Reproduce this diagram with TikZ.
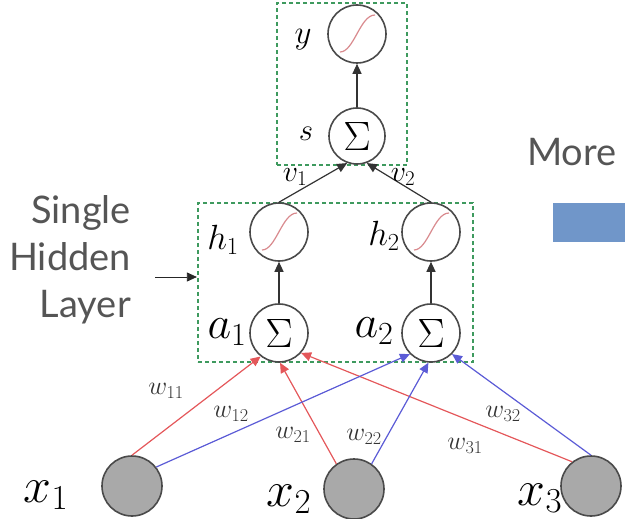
\RequirePackage{fix-cm}
\documentclass[tikz,border=0pt]{standalone}
\usepackage[no-math]{fontspec}
\newfontfamily\lato{Lato}
\usetikzlibrary{arrows.meta}
\definecolor{boxgreen}{HTML}{3E9A5E}
\definecolor{edgered}{HTML}{E4575A}
\definecolor{edgeblue}{HTML}{5B5BD6}
\definecolor{sigpink}{HTML}{D98A8E}
\definecolor{nodegray}{HTML}{A9A9A9}
\definecolor{textgray}{HTML}{555555}
\definecolor{barblue}{HTML}{7096C9}
\definecolor{ring}{HTML}{4A4A4A}
\begin{document}
\begin{tikzpicture}[x=1pt,y=-1pt,
 neuron/.style={circle,draw=ring,line width=1.6pt,minimum size=58pt,inner sep=0pt,fill=white},
 inp/.style={circle,draw=ring,line width=1.6pt,minimum size=60pt,inner sep=0pt,fill=nodegray},
 conn/.style={draw=black!80,line width=1.2pt,-{Triangle[length=10pt,width=9pt]}},
 redc/.style={draw=edgered,line width=1.2pt,-{Triangle[length=10pt,width=9pt]}},
 bluec/.style={draw=edgeblue,line width=1.2pt,-{Triangle[length=10pt,width=9pt]}},
 dbox/.style={draw=boxgreen,line width=2.2pt,dash pattern=on 4pt off 3pt,inner sep=0pt},
 sig/.style={draw=sigpink,line width=1.2pt},
 mlab/.style={inner sep=0pt},
 wlab/.style={inner sep=0pt,text=black!80,font=\fontsize{26}{26}\selectfont},
 side/.style={inner sep=0pt,text=textgray,font=\lato\fontsize{38}{38}\selectfont}]
\useasboundingbox (0,0) rectangle (625,519);

% dashed boxes
\node[dbox,minimum width=130pt,minimum height=162pt] (outbox) at (342,84) {};
\node[dbox,minimum width=275pt,minimum height=159pt] (hidden) at (335.5,282.5) {};

% neurons
\node[neuron] (yN) at (357,34) {};
\node[neuron,minimum size=56pt] (sN) at (357,136) {\fontsize{41}{41}\selectfont$\Sigma$};
\node[neuron] (h1) at (279,232) {};
\node[neuron] (h2) at (431,232) {};
\node[neuron] (a1) at (279,333) {\fontsize{41}{41}\selectfont$\Sigma$};
\node[neuron] (a2) at (431,333) {\fontsize{41}{41}\selectfont$\Sigma$};
\node[inp] (x1) at (132,486) {};
\node[inp] (x2) at (354,489) {};
\node[inp] (x3) at (591,486) {};

% sigmoids
\foreach \n in {yN,h1,h2}{
  \begin{scope}[shift={(\n)}]
    \draw[sig] (-17,18) .. controls (-3,18) and (3,-19) .. (18,-19);
  \end{scope}
}

% connectors
\draw[conn] (sN) -- (yN);
\draw[conn] (h1.north) -- (sN.250);
\draw[conn] (h2.north) -- (sN.290);
\draw[conn] (a1) -- (h1);
\draw[conn] (a2) -- (h2);

\draw[redc] (x1.north) -- (a1.232);
\draw[redc] (x2.125) -- (a1.272);
\draw[redc] (x3.128) -- (a1.318);
\draw[bluec] (x1.38) -- (a2.225);
\draw[bluec] (x2.55) -- (a2.265);
\draw[bluec] (x3.north) -- (a2.315);

% labels
\node[mlab] (ylab) at (303,40) {\fontsize{33}{33}\selectfont$y$};
\node[mlab] (slab) at (306,134) {\fontsize{31}{31}\selectfont$s$};
\node[mlab] (v1lab) at (295,177) {\fontsize{30}{30}\selectfont$v_1$};
\node[mlab] (v2lab) at (403,177) {\fontsize{30}{30}\selectfont$v_2$};
\node[mlab] (h1lab) at (223,240) {\fontsize{35}{35}\selectfont$h_1$};
\node[mlab] (h2lab) at (384,236) {\fontsize{35}{35}\selectfont$h_2$};
\node[mlab] (a1lab) at (227,332) {\fontsize{46}{46}\selectfont$a_1$};
\node[mlab] (a2lab) at (374,331) {\fontsize{46}{46}\selectfont$a_2$};
\node[mlab] (x1lab) at (46,495) {\fontsize{50}{50}\selectfont$x_1$};
\node[mlab] (x2lab) at (289,499) {\fontsize{50}{50}\selectfont$x_2$};
\node[mlab] (x3lab) at (540,498) {\fontsize{50}{50}\selectfont$x_3$};

\node[wlab] (w11) at (166,391) {$w_{11}$};
\node[wlab] (w12) at (231,414) {$w_{12}$};
\node[wlab] (w21) at (293,435) {$w_{21}$};
\node[wlab] (w22) at (364,437) {$w_{22}$};
\node[wlab] (w31) at (465,446) {$w_{31}$};
\node[wlab] (w32) at (503,414) {$w_{32}$};

% side text
\node[side,anchor=base east] (t1) at (131,223) {Single};
\node[side,anchor=base east] (t2) at (131,270) {Hidden};
\node[side,anchor=base east] (t3) at (131,317) {Layer};
\coordinate (hlarrow) at (155,277);
\draw[draw=black!85,line width=0.8pt,-{Triangle[length=10pt,width=9pt]}] (hlarrow) -- (hlarrow -| hidden.west);

% right side
\node[side,anchor=base west] (more) at (527,165) {More};
\fill[barblue] (553,203) rectangle (625,242);
\end{tikzpicture}
\end{document}
